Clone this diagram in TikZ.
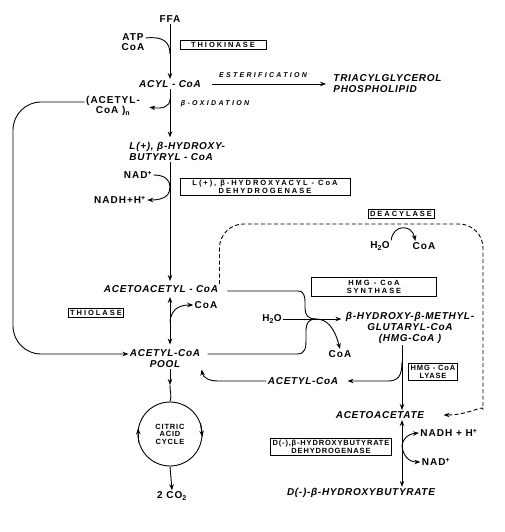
\documentclass[tikz,border=0pt]{standalone}
\usepackage{fontspec}
\setmainfont{Liberation Sans}
\newfontfamily\labelfont[LetterSpace=10]{Liberation Sans}
\newfontfamily\namefont[LetterSpace=7]{Liberation Sans}
\newfontfamily\enzfont[LetterSpace=11]{Liberation Sans}
\newfontfamily\widefont[LetterSpace=26]{Liberation Sans}
\newfontfamily\notefont[LetterSpace=33]{Liberation Sans}
\usetikzlibrary{arrows.meta}

\begin{document}
\begin{tikzpicture}[x=1pt,y=-1pt,
	every node/.style={black, inner sep=1pt, font=\labelfont\bfseries\fontsize{10}{10}\selectfont},
	met/.style={font=\namefont\bfseries\itshape\fontsize{10}{11}\selectfont, align=center},
	note/.style={font=\notefont\bfseries\itshape\fontsize{7}{8}\selectfont},
	enz/.style={draw, line width=.6pt, inner sep=2pt, align=center, font=\enzfont\bfseries\fontsize{7.5}{8}\selectfont},
	enzw/.style={enz, font=\widefont\bfseries\fontsize{7.5}{8}\selectfont},
	>={Stealth[length=6pt,width=4.5pt]}, line width=.9pt]
	\useasboundingbox (0,0) rectangle (504,532);

	% fatty acid side
	\node (ffa) at (170,19) {FFA};
	\node[align=center] (atp) at (133,42) {ATP\\CoA};
	\node[enzw, minimum width=86pt] (thiok) at (223,45) {THIOKINASE};
	\node[met] (acyl) at (170,84) {ACYL - CoA};
	\node[note] (ester) at (263,75) {ESTERIFICATION};
	\node[met, align=left, anchor=west] (tag) at (332,84) {TRIACYLGLYCEROL\\PHOSPHOLIPID};
	\node[align=center] (acetn) at (113,106) {(ACETYL-\\CoA )\textsubscript{n}};
	\node[note] (boxid) at (215,104) {β-OXIDATION};
	\node[met, align=left, anchor=west] (hbc) at (128,151) {L(+), β-HYDROXY-\\BUTYRYL - CoA};
	\node (nad) at (138,175) {NAD\textsuperscript{+}};
	\node (nadh) at (120,200) {NADH+H\textsuperscript{+}};
	\node[enzw, minimum width=170pt] (hadh) at (265,187) {L(+), β-HYDROXYACYL - CoA\\DEHYDROGENASE};
	\node[met] (acac) at (161,289) {ACETOACETYL - CoA};
	\node[enzw] (thiol) at (96,313) {THIOLASE};
	\node (coab) at (206,305) {CoA};
	\node[met] (pool) at (165,359) {ACETYL-CoA\\POOL};
	\node[circle, draw, minimum size=64pt, inner sep=0pt, align=center,
		font=\enzfont\bfseries\fontsize{7.5}{7.5}\selectfont] (cac) at (170,434) {CITRIC\\ACID\\CYCLE};
	\node (co2) at (172,496) {2 CO\textsubscript{2}};

	% ketone body side
	\node[enzw] (deac) at (401,214) {DEACYLASE};
	\node (h2oa) at (380,246) {H\textsubscript{2}O};
	\node (coaa) at (424,246) {CoA};
	\node[enzw, minimum width=125pt, minimum height=19pt] (hmgs) at (374,287) {HMG - CoA\\SYNTHASE};
	\node (h2ob) at (272,319) {H\textsubscript{2}O};
	\node[met] (hmg) at (410,328) {β-HYDROXY-β-METHYL-\\GLUTARYL-CoA\\(HMG-CoA )};
	\node (coac) at (340,354) {CoA};
	\node[met] (acetyl) at (303,381) {ACETYL-CoA};
	\node[enz] (lyase) at (433,372) {HMG - CoA\\LYASE};
	\node[met] (acetoac) at (380,415) {ACETOACETATE};
	\node (nadh2) at (449,433) {NADH + H\textsuperscript{+}};
	\node (nad2) at (436,462) {NAD\textsuperscript{+}};
	\node[enz] (bhbd) at (331,447) {D(-),β-HYDROXYBUTYRATE\\DEHYDROGENASE};
	\node[met] (bhb) at (361,493) {D(-)-β-HYDROXYBUTYRATE};

	% main spine
	\coordinate (j1) at (170,54);
	\draw[->] (ffa) -- (acyl);
	\draw ([yshift=4pt]atp.east) .. controls (163,36) and (170,42) .. (j1);
	\draw[->, shorten <=10pt, shorten >=6pt] (acyl) -- (acyl -| tag.west);
	\draw[->, shorten >=3pt] (acyl) -- (acyl |- hbc.north);
	\coordinate (j2) at (170,99);
	\draw[->, shorten >=8pt] (j2) .. controls (170,107) and (162,109) .. (acetn.east);
	\draw[->, rounded corners=28pt] ([yshift=4pt]acetn.west) -| (13,354) -- ([yshift=5pt]pool.west);
	\draw[->, shorten >=3pt] (hbc.south -| acyl) -- (acac.north -| acyl);
	\coordinate (j3) at (170,187);
	\draw[->] (nad.east) .. controls (165,175) and (170,180) .. (j3) .. controls (170,194) and (166,200) .. (nadh.east);
	\draw[<->, shorten <=3pt, shorten >=4pt] (acac.south -| acyl) -- (pool.north -| acyl);
	\coordinate (j4) at (170,322);
	\draw[->] (j4) .. controls (171,310) and (178,305) .. (coab.west);

	% citric acid cycle
	\coordinate (j5) at (170,385);
	\draw[->] (pool.south -| acyl) -- (j5);
	\draw (j5) .. controls (170,393) and (172,396) .. (cac.north);
	\draw[->] (cac.195) -- (cac.170);
	\draw[->] (cac.20) -- (cac.-5);
	\draw[->] (cac.south) -- (co2.north);

	% HMG-CoA
	\coordinate (m1) at (316,319);
	\draw[shorten <=8pt] ([yshift=-2pt]acac.east) -- (298,291) .. controls (306,291) and (305,301) .. (305,308) .. controls (305,315) and (308,319) .. (m1);
	\draw[shorten <=6pt] ([yshift=5pt]pool.east) -- (297,354) .. controls (306,354) and (306,347) .. (306,338) -- (306,330) .. controls (306,323) and (309,319) .. (m1);
	\draw[->, shorten >=3pt] (h2ob) -- (h2ob -| hmg.west);
	\draw[->] (m1) .. controls (326,319) and (334,326) .. (coac.north);

	% lyase and ketone bodies
	\coordinate (ly) at (402,362);
	\draw[->] (hmg.south -| ly) -- (acetoac.north -| ly);
	\draw[->, shorten >=8pt] (ly) .. controls (402,376) and (398,381) .. (388,381) -- (acetyl.east);
	\draw[->] (acetyl.west) -- (218,381) .. controls (208,381) and (203,377) .. (pool.south east);
	\draw[<->] (acetoac.south -| ly) -- (bhb.north -| ly);
	\coordinate (k1) at (402,446);
	\draw[->] (k1) .. controls (403,438) and (408,434) .. (nadh2.west);
	\draw[->] (k1) .. controls (403,455) and (408,462) .. (nad2.west);

	% deacylase
	\draw[->, dash pattern=on 4pt off 2.5pt, rounded corners=24pt] (acac.north east) |- (483,224) -- (483,385) .. controls (483,405) and (468,415) .. ([xshift=18pt]acetoac.east);
	\draw[->] (h2oa.north east) .. controls (393,224) and (412,224) .. ([xshift=4pt]coaa.north west);
\end{tikzpicture}
\end{document}
